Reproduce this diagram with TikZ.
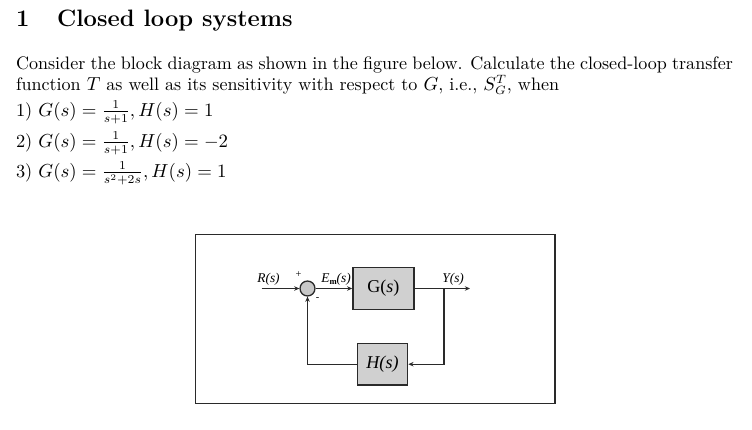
\documentclass[tikz,border=0pt]{standalone}
\usepackage{fontspec}
\newfontfamily\dfont{Liberation Serif}
\usetikzlibrary{arrows.meta}
\definecolor{linec}{HTML}{2A2A2A}
\definecolor{boxgray}{HTML}{D0D0D0}
\definecolor{sumgray}{HTML}{C8C8C8}
\begin{document}
\begin{tikzpicture}[x=0.5814pt,y=-0.5814pt,
  txt/.style={anchor=base west,inner sep=0pt,outer sep=0pt,font=\fontsize{10.5}{12.6}\selectfont},
  eq/.style={anchor=base west,inner sep=0pt,outer sep=0pt,font=\fontsize{10.7}{12.8}\selectfont},
  hd/.style={anchor=base west,inner sep=0pt,outer sep=0pt,font=\fontsize{13.8}{16.6}\selectfont\bfseries},
  lin/.style={draw=linec,line width=0.75pt},
  arr/.style={lin,-{Stealth[length=3pt,width=2.6pt]}},
  blk/.style={draw=linec,fill=boxgray,line width=0.75pt,inner sep=0pt,minimum height=24.2pt},
  sumc/.style={circle,draw=linec,fill=sumgray,line width=0.75pt,inner sep=0pt,minimum size=8.7pt},
  lab/.style={anchor=base west,inner sep=0pt,font=\dfont\fontsize{7.8}{9}\selectfont},
  sgn/.style={inner sep=0pt,font=\dfont\fontsize{6}{7}\selectfont},
  frame/.style={draw=linec,line width=0.9pt}]
\useasboundingbox (0,0) rectangle (752,429);
% heading and text
\node[hd] (num) at (16,27) {1};
\node[hd] (ttl) at (57,27) {Closed loop systems};
\node[txt] (l1) at (16,69) {\hbox to 416.9pt{Consider the block diagram as shown in the figure below. Calculate the closed-loop transfer}};
\node[txt] (l2) at (16,90) {function $T$ as well as its sensitivity with respect to $G$, i.e., $S_G^T$, when};
\node[eq] (e1) at (16,116) {1) $G(s)=\frac{1}{s+1}, H(s)=1$};
\node[eq] (e2) at (16,147) {2) $G(s)=\frac{1}{s+1}, H(s)=-2$};
\node[eq] (e3) at (16,177) {3) $G(s)=\frac{1}{s^2+2s}, H(s)=1$};
% frame
\draw[frame] (195.7,234.3) rectangle (555,403.3);
% blocks
\node[blk,minimum width=35.5pt] (G) at (383.4,288.5) {\dfont\fontsize{10.5}{12}\selectfont G(\textit{s})};
\node[blk,minimum width=29.3pt] (H) at (382.5,364.2) {\dfont\fontsize{10.5}{12}\selectfont\itshape H(s)};
\node[sumc] (S) at (307.5,288.5) {};
\coordinate (in) at (261.7,288.5);
\coordinate (out) at (470,288.5);
\coordinate (br) at (444,288.5);
% connectors
\draw[arr] (in) -- (S.west);
\draw[arr] (S.east) -- (G.west);
\draw[arr] (G.east) -- (out);
\draw[arr] (br) |- (H.east);
\draw[arr] (H.west) -| (S.south);
% labels
\node[lab] (R) at (257,282) {\itshape R(s)};
\node[sgn] (plus) at (298.5,274.5) {+};
\node[lab] (E) at (321,282) {\itshape E\raisebox{-0.4ex}{\fontsize{5}{6}\selectfont\bfseries\upshape m}(s)};
\node[sgn] (minus) at (317.5,299.5) {-};
\node[lab] (Y) at (442,282) {\itshape Y(s)};
\end{tikzpicture}
\end{document}
